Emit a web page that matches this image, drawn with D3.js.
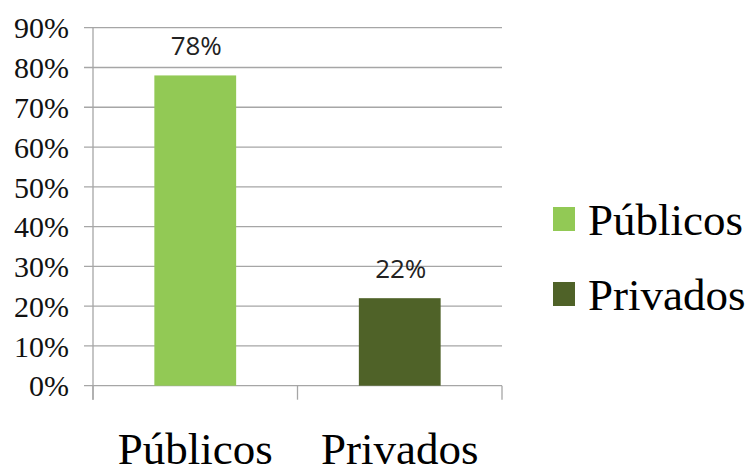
<!DOCTYPE html>
<html>
<head>
<meta charset="utf-8">
<title>Públicos vs Privados</title>
<script src="https://cdn.jsdelivr.net/npm/d3@7"></script>
<style>
  body { margin: 0; background: #fff; }
  svg { display: block; }
  .serif { font-family: 'Liberation Serif', 'DejaVu Serif', serif; }
</style>
</head>
<body>
<script>
// data
var categories = ["Públicos", "Privados"];
var values = [0.78, 0.22];
var colors = ["#92c955", "#4f6228"];
var yTicks = [0, 0.1, 0.2, 0.3, 0.4, 0.5, 0.6, 0.7, 0.8, 0.9];

var W = 750, H = 470;
// plot box (note: "top" is a reserved window prop, so use other names)
var plotL = 93, plotR = 502, plotT = 27.7, plotB = 385.7;

var svg = d3.select("body").append("svg")
    .attr("width", W).attr("height", H);

var x = d3.scaleBand()
    .domain(categories)
    .range([plotL, plotR])
    .paddingInner(0.6)
    .paddingOuter(0.3);

var y = d3.scaleLinear()
    .domain([0, 0.9])
    .range([plotB, plotT]);

// gridlines
svg.append("g").selectAll("line").data(yTicks).enter().append("line")
    .attr("x1", plotL - 9).attr("x2", plotR)
    .attr("y1", d => y(d)).attr("y2", d => y(d))
    .attr("stroke", "#a6a6a6").attr("stroke-width", 1.3);

// y axis
var yAxis = d3.axisLeft(y).tickValues(yTicks).tickSize(0).tickPadding(24)
    .tickFormat(d3.format(".0%"));
var gy = svg.append("g").attr("transform", "translate(" + plotL + ",0)").call(yAxis);
gy.select(".domain").remove();
gy.attr("font-family", null).attr("font-size", null);
gy.selectAll("text")
    .attr("class", "serif")
    .style("font-size", "30px").attr("fill", "#111").attr("dy", "0.34em");

svg.append("line")
    .attr("x1", plotL).attr("x2", plotL)
    .attr("y1", plotT).attr("y2", plotB + 14)
    .attr("stroke", "#a6a6a6").attr("stroke-width", 1.3);

// x axis tick marks at band boundaries
var bounds = d3.range(categories.length + 1).map(i => plotL + i * x.step());
svg.append("g").selectAll("line").data(bounds).enter().append("line")
    .attr("x1", d => d).attr("x2", d => d)
    .attr("y1", plotB).attr("y2", plotB + 14)
    .attr("stroke", "#a6a6a6").attr("stroke-width", 1.3);

// bars
svg.append("g").selectAll("rect").data(values).enter().append("rect")
    .attr("x", (d, i) => x(categories[i]))
    .attr("y", d => y(d))
    .attr("width", x.bandwidth())
    .attr("height", d => plotB - y(d))
    .attr("fill", (d, i) => colors[i]);

// value labels
svg.append("g").selectAll("text").data(values).enter().append("text")
    .attr("x", (d, i) => x(categories[i]) + x.bandwidth() / 2 + 1)
    .attr("y", d => y(d) - 20)
    .attr("text-anchor", "middle")
    .style("font-family", "'Open Sans', 'Liberation Sans', sans-serif")
    .style("font-size", "26px")
    .attr("fill", "#222")
    .text(d => d3.format(".0%")(d));

// category labels
svg.append("g").selectAll("text").data(categories).enter().append("text")
    .attr("class", "serif")
    .attr("x", d => x(d) + x.bandwidth() / 2)
    .attr("y", 464)
    .attr("text-anchor", "middle")
    .style("font-size", "45px")
    .attr("fill", "#000")
    .text(d => d);

// legend
var lg = svg.append("g").selectAll("g").data(categories).enter().append("g")
    .attr("transform", (d, i) => "translate(553," + (207 + i * 75) + ")");
lg.append("rect")
    .attr("width", 22).attr("height", 24)
    .attr("fill", (d, i) => colors[i]);
lg.append("text")
    .attr("class", "serif")
    .attr("x", 35).attr("y", 28)
    .style("font-size", "45px")
    .attr("fill", "#000")
    .text(d => d);
</script>
</body>
</html>
